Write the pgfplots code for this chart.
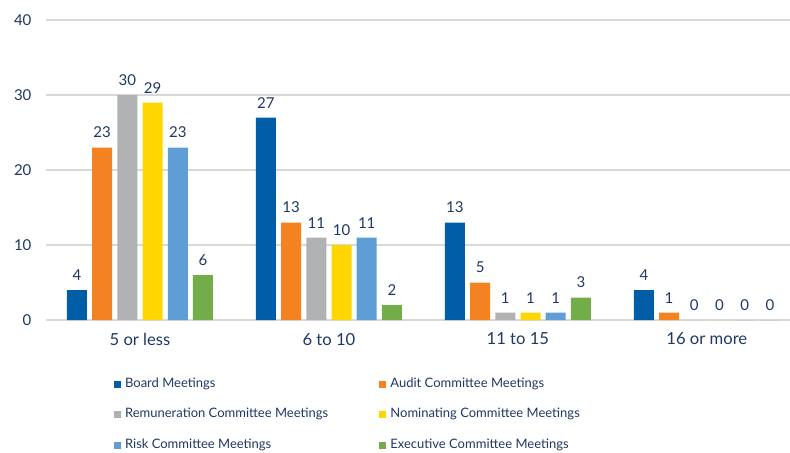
\documentclass[border=0pt]{standalone}
\usepackage{pgfplots}
\pgfplotsset{compat=1.18}
\usepackage{fontspec}
\setmainfont{Lato}
\definecolor{txt}{RGB}{31,56,100}
\definecolor{cBoard}{RGB}{0,93,166}
\definecolor{cAudit}{RGB}{245,130,32}
\definecolor{cRem}{RGB}{176,177,179}
\definecolor{cNom}{RGB}{255,214,0}
\definecolor{cRisk}{RGB}{94,157,213}
\definecolor{cExec}{RGB}{114,173,74}
\definecolor{gridc}{RGB}{217,217,217}
\begin{document}
\begin{tikzpicture}
\begin{axis}[
  scale only axis, width=372.25pt, height=150pt,
  ybar=2.6pt, bar width=10pt,
  xmin=-0.5, xmax=3.44, ymin=0, ymax=40,
  xtick=data, xticklabels={5 or less,6 to 10,11 to 15,16 or more},
  ytick={0,10,20,30,40},
  axis line style={draw=none},
  major tick length=0pt,
  ymajorgrids, grid style={gridc, line width=0.8pt},
  font=\fontsize{7.5}{9}\selectfont, text=txt,
  /pgf/number format/assume math mode=true,
  yticklabel style={xshift=-3.5pt},
  xticklabel style={yshift=-3pt, font=\fontsize{8.3}{9}\selectfont},
  nodes near coords,
  nodes near coords style={font=\fontsize{7.5}{9}\selectfont, text=txt, anchor=south, inner sep=0pt, yshift=4.5pt},
  legend columns=2,
  legend cell align=left,
  legend style={draw=none, fill=none, at={(0.0913,-0.178)}, anchor=north west,
    font=\fontsize{6.5}{8}\selectfont, text=txt, inner sep=0pt,
    row sep=5pt,
    /tikz/every even column/.append style={column sep=23.5pt}},
  legend image code/.code={\fill[#1] (0pt,-1.8pt) rectangle (3.6pt,1.8pt);},
]
\addplot[fill=cBoard, draw=none] coordinates {(0,4) (1,27) (2,13) (3,4)};
\addplot[fill=cAudit, draw=none] coordinates {(0,23) (1,13) (2,5) (3,1)};
\addplot[fill=cRem, draw=none] coordinates {(0,30) (1,11) (2,1) (3,0)};
\addplot[fill=cNom, draw=none] coordinates {(0,29) (1,10) (2,1) (3,0)};
\addplot[fill=cRisk, draw=none] coordinates {(0,23) (1,11) (2,1) (3,0)};
\addplot[fill=cExec, draw=none] coordinates {(0,6) (1,2) (2,3) (3,0)};
\legend{Board Meetings, Audit Committee Meetings, Remuneration Committee Meetings, Nominating Committee Meetings, Risk Committee Meetings, Executive Committee Meetings}
\end{axis}
\pgfresetboundingbox
\path ([xshift=-22.75pt,yshift=-66pt]current axis.south west) rectangle ([yshift=10pt]current axis.north east);
\end{tikzpicture}
\end{document}
